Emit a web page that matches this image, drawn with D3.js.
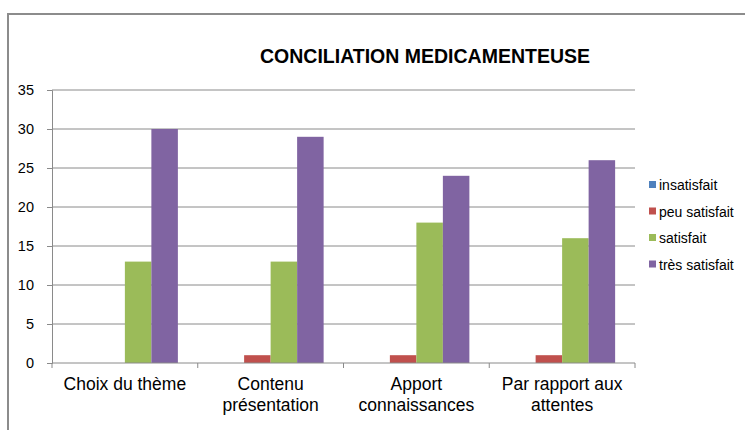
<html>
<head>
<meta charset="utf-8">
<script src="https://d3js.org/d3.v7.min.js"></script>
<style>
  body { margin: 0; background: #fff; }
  text { font-family: "Liberation Sans", Arial, sans-serif; }
</style>
</head>
<body>
<svg width="745" height="430"></svg>
<script>
const categories = [["Choix du thème"], ["Contenu", "présentation"], ["Apport", "connaissances"], ["Par rapport aux", "attentes"]]
const seriesNames = ["insatisfait", "peu satisfait", "satisfait", "très satisfait"]
const insatisfait = [0, 0, 0, 0]
const peuSatisfait = [0, 1, 1, 1]
const satisfait = [13, 13, 18, 16]
const tresSatisfait = [30, 29, 24, 26]
const colors = ["#4F81BD", "#C0504D", "#9BBB59", "#8064A2"]
const yTicks = [0, 5, 10, 15, 20, 25, 30, 35]

const allSeries = [insatisfait, peuSatisfait, satisfait, tresSatisfait]
const svg = d3.select("svg")

// chart frame
svg.append("rect")
  .attr("x", 8).attr("y", 14).attr("width", 760).attr("height", 440)
  .attr("fill", "none").attr("stroke", "#8c8c8c").attr("stroke-width", 2)

svg.append("text")
  .attr("x", 425).attr("y", 63)
  .attr("text-anchor", "middle")
  .style("font-size", "19.5px").style("font-weight", "bold")
  .text("CONCILIATION MEDICAMENTEUSE")

const plotL = 52, plotR = 635, plotT = 90, plotB = 363
const x0 = d3.scaleBand().domain(d3.range(categories.length)).range([plotL, plotR]).paddingInner(0).paddingOuter(0)
// Excel gap width 150%: 4 bars + 1.5 bar width per category
const bw = x0.bandwidth() / 5.5
const y = d3.scaleLinear().domain([0, 35]).range([plotB, plotT])

// gridlines
svg.append("g").selectAll("line").data(yTicks.slice(1)).enter().append("line")
  .attr("x1", plotL).attr("x2", plotR)
  .attr("y1", d => y(d)).attr("y2", d => y(d))
  .attr("stroke", "#8a8a8a").attr("stroke-width", 1)

// y axis
const yAxis = svg.append("g").attr("transform", `translate(${plotL},0)`)
  .call(d3.axisLeft(y).tickValues(yTicks).tickSize(5).tickPadding(13))
yAxis.select(".domain").attr("stroke", "#8a8a8a")
yAxis.selectAll(".tick line").attr("stroke", "#8a8a8a")
yAxis.selectAll("text").style("font-size", "14.5px").attr("fill", "#000")
  .style("font-family", "'Liberation Sans', Arial, sans-serif")

// bars
allSeries.forEach((vals, s) => {
  svg.append("g").selectAll("rect").data(vals).enter().append("rect")
    .attr("x", (d, i) => x0(i) + 0.75 * bw + s * bw)
    .attr("width", bw)
    .attr("y", d => y(d))
    .attr("height", d => plotB - y(d))
    .attr("fill", colors[s])
    .append("title").text((d, i) => seriesNames[s] + ": " + d)
})

// x axis
const xg = svg.append("g")
xg.append("line").attr("x1", plotL).attr("x2", plotR).attr("y1", plotB).attr("y2", plotB)
  .attr("stroke", "#8a8a8a")
xg.selectAll("line.tk").data(d3.range(categories.length + 1)).enter().append("line")
  .attr("class", "tk")
  .attr("x1", i => plotL + i * x0.bandwidth()).attr("x2", i => plotL + i * x0.bandwidth())
  .attr("y1", plotB).attr("y2", plotB + 5)
  .attr("stroke", "#8a8a8a")
categories.forEach((lines, i) => {
  const t = xg.append("text")
    .attr("x", x0(i) + x0.bandwidth() / 2)
    .attr("y", 390)
    .attr("text-anchor", "middle")
    .style("font-size", "17.5px")
  lines.forEach((l, j) => {
    t.append("tspan").attr("x", x0(i) + x0.bandwidth() / 2).attr("dy", j ? 21 : 0).text(l)
  })
})

// legend
const leg = svg.append("g").selectAll("g").data(seriesNames).enter().append("g")
  .attr("transform", (d, i) => `translate(649,${185 + i * 26.5})`)
leg.append("rect").attr("x", 0).attr("y", -4).attr("width", 7).attr("height", 7)
  .attr("fill", (d, i) => colors[i])
leg.append("text").attr("x", 10).attr("y", 5)
  .style("font-size", "14px").text(d => d)
</script>
</body>
</html>
